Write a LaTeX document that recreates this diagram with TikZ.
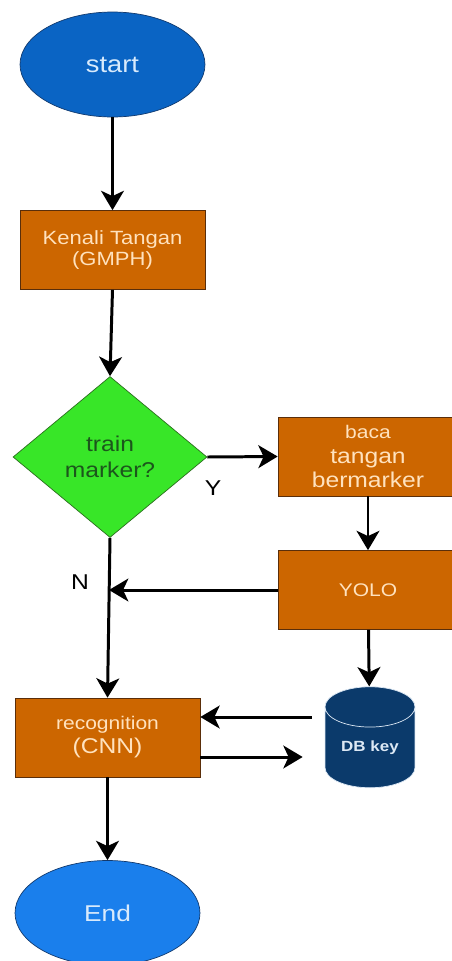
\documentclass[tikz,border=0pt]{standalone}
\usepackage{fontspec}
\setmainfont[FakeStretch=1.15]{Liberation Sans}
\usetikzlibrary{shapes.geometric,arrows.meta}
\definecolor{startblue}{HTML}{0A64C4}
\definecolor{endblue}{HTML}{1A7FEC}
\definecolor{ovalline}{HTML}{123A6E}
\definecolor{ovaltext}{HTML}{D8EAFC}
\definecolor{boxorange}{HTML}{CC6600}
\definecolor{boxline}{HTML}{5A2E0A}
\definecolor{boxtext}{HTML}{FFE2BE}
\definecolor{diagreen}{HTML}{38E628}
\definecolor{dialine}{HTML}{2B6E1E}
\definecolor{diatext}{HTML}{1C561C}
\definecolor{dbnavy}{HTML}{0B3A6B}
\definecolor{dbtext}{HTML}{DCE8F4}
\begin{document}
\begin{tikzpicture}[x=0.02cm,y=-0.02cm]
\tikzset{terminal/.style={draw=ovalline, ellipse, minimum width=3.7cm, minimum height=2.1cm, inner sep=0pt, text=ovaltext, font=\fontsize{13.5}{16}\selectfont},
procbox/.style={draw=boxline, fill=boxorange, text=boxtext, minimum width=3.7cm, minimum height=1.58cm, inner sep=0pt, align=center},
decision/.style={draw=dialine, fill=diagreen, diamond, minimum width=3.88cm, minimum height=3.22cm, inner sep=0pt, align=center, text=diatext, font=\fontsize{12.2}{14.7}\selectfont},
store/.style={draw=dbtext, fill=dbnavy, cylinder, shape border rotate=90, aspect=0.7, minimum width=1.8cm, minimum height=2.02cm, inner sep=0pt, text=dbtext, font=\fontsize{8.4}{10}\selectfont\bfseries},
arr/.style={-{Stealth[length=11pt,width=13pt,inset=3pt]}, line width=1.7pt},
lbl/.style={font=\fontsize{12.2}{14}\selectfont}}
\clip (0,0) rectangle (452,961);
\node[terminal, fill=startblue] (start) at (112.5,64.5) {start};
\node[procbox, font=\fontsize{10.9}{11.5}\selectfont] (kenali) at (112.5,250) {Kenali Tangan\\(GMPH)};
\node[decision] (train) at (110,457) {train\\marker?};
\node[procbox, minimum width=3.6cm, font=\fontsize{12.2}{14}\selectfont] (baca) at (368,456.5) {{\fontsize{10.4}{14}\selectfont baca}\\tangan\\bermarker};
\node[procbox, minimum width=3.6cm, font=\fontsize{10.4}{12}\selectfont] (yolo) at (368,590) {YOLO};
\node[store] (db) at (370,747.5) {DB key};
\node[procbox, font=\fontsize{12.2}{13.6}\selectfont] (recog) at (107.5,737.5) {{\fontsize{10.4}{13.6}\selectfont recognition}\\(CNN)};
\node[terminal, fill=endblue, font=\fontsize{13}{16}\selectfont] (end) at (107.5,913) {End};
\node[lbl] (ylab) at (213,488) {Y};
\node[lbl] (nlab) at (80,582) {N};
\coordinate (join) at (109,590);
\draw[arr] (start) -- (kenali);
\draw[arr] (kenali.south) -- (train.north);
\draw[arr] (train.east) -- (baca.west);
\draw[arr] (baca) -- (yolo);
\draw[arr] (yolo.west) -- (join);
\draw[arr] (train.south) -- (recog.north);
\draw[arr] (yolo) -- (db);
\draw[arr, shorten <=0.26cm] ([yshift=0.41cm]db.west |- recog.east) -- ([yshift=0.41cm]recog.east);
\draw[arr, shorten >=0.44cm] ([yshift=-0.39cm]recog.east) -- ([yshift=-0.39cm]db.west |- recog.east);
\draw[arr] (recog) -- (end);
\end{tikzpicture}
\end{document}
